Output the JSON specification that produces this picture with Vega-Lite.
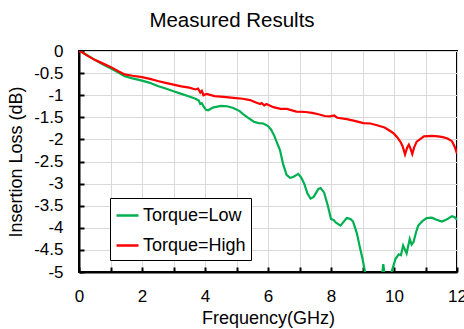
{
  "$schema": "https://vega.github.io/schema/vega-lite/v6.json",
  "autosize": {"type": "none"},
  "width": 378,
  "height": 221,
  "padding": {"left": 79, "top": 51, "right": 7, "bottom": 57},
  "background": "white",
  "title": {"text": "Measured Results", "fontSize": 20.5, "font": "Liberation Sans", "fontWeight": "normal", "color": "black", "anchor": "middle", "frame": "group", "dx": -36, "offset": 11},
  "config": {
    "font": "Liberation Sans",
    "view": {"stroke": "black", "strokeWidth": 2},
    "axis": {"labelFont": "Liberation Sans", "titleFont": "Liberation Sans", "labelColor": "black", "titleColor": "black", "titleFontWeight": "normal", "domainColor": "black", "domainWidth": 2, "tickColor": "black", "tickWidth": 2, "tickSize": -5, "gridColor": "#d9d9d9", "gridWidth": 1, "labelFontSize": 17, "titleFontSize": 18}
  },
  "data": {"values": [
    {"f":0,"loss":0,"s":"Torque=Low"},
    {"f":0.1,"loss":-0.03,"s":"Torque=Low"},
    {"f":0.25,"loss":-0.09,"s":"Torque=Low"},
    {"f":0.5,"loss":-0.2,"s":"Torque=Low"},
    {"f":0.75,"loss":-0.3,"s":"Torque=Low"},
    {"f":1.0,"loss":-0.39,"s":"Torque=Low"},
    {"f":1.25,"loss":-0.49,"s":"Torque=Low"},
    {"f":1.45,"loss":-0.57,"s":"Torque=Low"},
    {"f":1.7,"loss":-0.62,"s":"Torque=Low"},
    {"f":2.0,"loss":-0.67,"s":"Torque=Low"},
    {"f":2.25,"loss":-0.72,"s":"Torque=Low"},
    {"f":2.5,"loss":-0.79,"s":"Torque=Low"},
    {"f":2.75,"loss":-0.85,"s":"Torque=Low"},
    {"f":3.0,"loss":-0.91,"s":"Torque=Low"},
    {"f":3.25,"loss":-0.97,"s":"Torque=Low"},
    {"f":3.5,"loss":-1.03,"s":"Torque=Low"},
    {"f":3.7,"loss":-1.08,"s":"Torque=Low"},
    {"f":3.8,"loss":-1.12,"s":"Torque=Low"},
    {"f":3.85,"loss":-1.2,"s":"Torque=Low"},
    {"f":3.9,"loss":-1.18,"s":"Torque=Low"},
    {"f":3.95,"loss":-1.25,"s":"Torque=Low"},
    {"f":4.03,"loss":-1.33,"s":"Torque=Low"},
    {"f":4.1,"loss":-1.34,"s":"Torque=Low"},
    {"f":4.25,"loss":-1.28,"s":"Torque=Low"},
    {"f":4.5,"loss":-1.24,"s":"Torque=Low"},
    {"f":4.7,"loss":-1.25,"s":"Torque=Low"},
    {"f":4.9,"loss":-1.29,"s":"Torque=Low"},
    {"f":5.1,"loss":-1.36,"s":"Torque=Low"},
    {"f":5.2,"loss":-1.42,"s":"Torque=Low"},
    {"f":5.35,"loss":-1.5,"s":"Torque=Low"},
    {"f":5.55,"loss":-1.6,"s":"Torque=Low"},
    {"f":5.7,"loss":-1.63,"s":"Torque=Low"},
    {"f":5.85,"loss":-1.64,"s":"Torque=Low"},
    {"f":6.0,"loss":-1.7,"s":"Torque=Low"},
    {"f":6.1,"loss":-1.78,"s":"Torque=Low"},
    {"f":6.2,"loss":-1.92,"s":"Torque=Low"},
    {"f":6.3,"loss":-2.1,"s":"Torque=Low"},
    {"f":6.38,"loss":-2.24,"s":"Torque=Low"},
    {"f":6.48,"loss":-2.56,"s":"Torque=Low"},
    {"f":6.59,"loss":-2.8,"s":"Torque=Low"},
    {"f":6.7,"loss":-2.87,"s":"Torque=Low"},
    {"f":6.8,"loss":-2.85,"s":"Torque=Low"},
    {"f":6.96,"loss":-2.78,"s":"Torque=Low"},
    {"f":7.05,"loss":-2.86,"s":"Torque=Low"},
    {"f":7.15,"loss":-3.0,"s":"Torque=Low"},
    {"f":7.25,"loss":-3.22,"s":"Torque=Low"},
    {"f":7.35,"loss":-3.34,"s":"Torque=Low"},
    {"f":7.45,"loss":-3.3,"s":"Torque=Low"},
    {"f":7.6,"loss":-3.12,"s":"Torque=Low"},
    {"f":7.67,"loss":-3.1,"s":"Torque=Low"},
    {"f":7.78,"loss":-3.2,"s":"Torque=Low"},
    {"f":7.9,"loss":-3.5,"s":"Torque=Low"},
    {"f":8.0,"loss":-3.8,"s":"Torque=Low"},
    {"f":8.08,"loss":-3.82,"s":"Torque=Low"},
    {"f":8.15,"loss":-3.88,"s":"Torque=Low"},
    {"f":8.3,"loss":-3.95,"s":"Torque=Low"},
    {"f":8.5,"loss":-3.78,"s":"Torque=Low"},
    {"f":8.62,"loss":-3.8,"s":"Torque=Low"},
    {"f":8.7,"loss":-3.86,"s":"Torque=Low"},
    {"f":8.82,"loss":-4.12,"s":"Torque=Low"},
    {"f":8.92,"loss":-4.45,"s":"Torque=Low"},
    {"f":9.0,"loss":-4.7,"s":"Torque=Low"},
    {"f":9.08,"loss":-5.0,"s":"Torque=Low"},
    {"f":9.15,"loss":-5.3,"s":"Torque=Low"},
    {"f":9.3,"loss":-5.6,"s":"Torque=Low"},
    {"f":9.5,"loss":-5.5,"s":"Torque=Low"},
    {"f":9.6,"loss":-5.2,"s":"Torque=Low"},
    {"f":9.66,"loss":-4.82,"s":"Torque=Low"},
    {"f":9.72,"loss":-5.2,"s":"Torque=Low"},
    {"f":9.85,"loss":-5.2,"s":"Torque=Low"},
    {"f":9.93,"loss":-4.98,"s":"Torque=Low"},
    {"f":10.05,"loss":-4.7,"s":"Torque=Low"},
    {"f":10.15,"loss":-4.6,"s":"Torque=Low"},
    {"f":10.22,"loss":-4.62,"s":"Torque=Low"},
    {"f":10.29,"loss":-4.4,"s":"Torque=Low"},
    {"f":10.35,"loss":-4.5,"s":"Torque=Low"},
    {"f":10.4,"loss":-4.58,"s":"Torque=Low"},
    {"f":10.5,"loss":-4.25,"s":"Torque=Low"},
    {"f":10.56,"loss":-4.38,"s":"Torque=Low"},
    {"f":10.62,"loss":-4.32,"s":"Torque=Low"},
    {"f":10.7,"loss":-4.1,"s":"Torque=Low"},
    {"f":10.77,"loss":-3.95,"s":"Torque=Low"},
    {"f":10.9,"loss":-3.85,"s":"Torque=Low"},
    {"f":11.04,"loss":-3.78,"s":"Torque=Low"},
    {"f":11.2,"loss":-3.77,"s":"Torque=Low"},
    {"f":11.35,"loss":-3.82,"s":"Torque=Low"},
    {"f":11.52,"loss":-3.86,"s":"Torque=Low"},
    {"f":11.65,"loss":-3.82,"s":"Torque=Low"},
    {"f":11.84,"loss":-3.74,"s":"Torque=Low"},
    {"f":11.93,"loss":-3.76,"s":"Torque=Low"},
    {"f":12.0,"loss":-3.82,"s":"Torque=Low"},
    {"f":0,"loss":0,"s":"Torque=High"},
    {"f":0.1,"loss":-0.03,"s":"Torque=High"},
    {"f":0.25,"loss":-0.1,"s":"Torque=High"},
    {"f":0.5,"loss":-0.2,"s":"Torque=High"},
    {"f":0.75,"loss":-0.28,"s":"Torque=High"},
    {"f":1.0,"loss":-0.36,"s":"Torque=High"},
    {"f":1.25,"loss":-0.46,"s":"Torque=High"},
    {"f":1.45,"loss":-0.53,"s":"Torque=High"},
    {"f":1.7,"loss":-0.56,"s":"Torque=High"},
    {"f":2.0,"loss":-0.59,"s":"Torque=High"},
    {"f":2.25,"loss":-0.63,"s":"Torque=High"},
    {"f":2.5,"loss":-0.68,"s":"Torque=High"},
    {"f":2.75,"loss":-0.72,"s":"Torque=High"},
    {"f":3.0,"loss":-0.76,"s":"Torque=High"},
    {"f":3.25,"loss":-0.8,"s":"Torque=High"},
    {"f":3.5,"loss":-0.83,"s":"Torque=High"},
    {"f":3.7,"loss":-0.87,"s":"Torque=High"},
    {"f":3.78,"loss":-0.85,"s":"Torque=High"},
    {"f":3.85,"loss":-0.94,"s":"Torque=High"},
    {"f":3.9,"loss":-0.9,"s":"Torque=High"},
    {"f":3.95,"loss":-1.0,"s":"Torque=High"},
    {"f":4.05,"loss":-0.97,"s":"Torque=High"},
    {"f":4.3,"loss":-1.02,"s":"Torque=High"},
    {"f":4.6,"loss":-1.04,"s":"Torque=High"},
    {"f":4.9,"loss":-1.06,"s":"Torque=High"},
    {"f":5.2,"loss":-1.08,"s":"Torque=High"},
    {"f":5.43,"loss":-1.11,"s":"Torque=High"},
    {"f":5.6,"loss":-1.16,"s":"Torque=High"},
    {"f":5.75,"loss":-1.2,"s":"Torque=High"},
    {"f":5.8,"loss":-1.18,"s":"Torque=High"},
    {"f":5.88,"loss":-1.23,"s":"Torque=High"},
    {"f":5.95,"loss":-1.2,"s":"Torque=High"},
    {"f":6.17,"loss":-1.27,"s":"Torque=High"},
    {"f":6.4,"loss":-1.31,"s":"Torque=High"},
    {"f":6.6,"loss":-1.31,"s":"Torque=High"},
    {"f":6.9,"loss":-1.37,"s":"Torque=High"},
    {"f":7.2,"loss":-1.38,"s":"Torque=High"},
    {"f":7.4,"loss":-1.4,"s":"Torque=High"},
    {"f":7.6,"loss":-1.43,"s":"Torque=High"},
    {"f":7.8,"loss":-1.47,"s":"Torque=High"},
    {"f":7.97,"loss":-1.48,"s":"Torque=High"},
    {"f":8.1,"loss":-1.46,"s":"Torque=High"},
    {"f":8.2,"loss":-1.51,"s":"Torque=High"},
    {"f":8.5,"loss":-1.54,"s":"Torque=High"},
    {"f":8.75,"loss":-1.58,"s":"Torque=High"},
    {"f":9.03,"loss":-1.63,"s":"Torque=High"},
    {"f":9.25,"loss":-1.64,"s":"Torque=High"},
    {"f":9.46,"loss":-1.68,"s":"Torque=High"},
    {"f":9.7,"loss":-1.73,"s":"Torque=High"},
    {"f":9.88,"loss":-1.81,"s":"Torque=High"},
    {"f":10.0,"loss":-1.87,"s":"Torque=High"},
    {"f":10.1,"loss":-1.95,"s":"Torque=High"},
    {"f":10.2,"loss":-2.05,"s":"Torque=High"},
    {"f":10.27,"loss":-2.15,"s":"Torque=High"},
    {"f":10.35,"loss":-2.34,"s":"Torque=High"},
    {"f":10.42,"loss":-2.18,"s":"Torque=High"},
    {"f":10.47,"loss":-2.12,"s":"Torque=High"},
    {"f":10.52,"loss":-2.2,"s":"Torque=High"},
    {"f":10.58,"loss":-2.33,"s":"Torque=High"},
    {"f":10.64,"loss":-2.18,"s":"Torque=High"},
    {"f":10.72,"loss":-2.05,"s":"Torque=High"},
    {"f":10.82,"loss":-2.0,"s":"Torque=High"},
    {"f":10.95,"loss":-1.93,"s":"Torque=High"},
    {"f":11.2,"loss":-1.92,"s":"Torque=High"},
    {"f":11.4,"loss":-1.93,"s":"Torque=High"},
    {"f":11.55,"loss":-1.95,"s":"Torque=High"},
    {"f":11.7,"loss":-1.98,"s":"Torque=High"},
    {"f":11.84,"loss":-2.04,"s":"Torque=High"},
    {"f":11.93,"loss":-2.17,"s":"Torque=High"},
    {"f":12.0,"loss":-2.32,"s":"Torque=High"}
  ]},
  "mark": {"type": "line", "clip": true, "strokeWidth": 2.2, "interpolate": "linear"},
  "encoding": {
    "x": {"field": "f", "type": "quantitative", "scale": {"domain": [0, 12], "nice": false},
      "axis": {"title": "Frequency(GHz)", "values": [0,1,2,3,4,5,6,7,8,9,10,11,12], "labelExpr": "datum.value % 2 == 0 ? datum.label : ''", "labelPadding": 21, "titlePadding": 5, "labelFlush": false, "labelOverlap": false}},
    "y": {"field": "loss", "type": "quantitative", "scale": {"domain": [-5, 0], "nice": false, "zero": false},
      "axis": {"title": "Insertion Loss (dB)", "values": [-5,-4.5,-4,-3.5,-3,-2.5,-2,-1.5,-1,-0.5,0], "labelExpr": "datum.value == 0 ? '0' : '-' + abs(datum.value)", "labelPadding": 21, "titlePadding": 8, "labelOverlap": false}},
    "color": {"field": "s", "type": "nominal", "sort": ["Torque=Low", "Torque=High"],
      "scale": {"domain": ["Torque=Low", "Torque=High"], "range": ["#00b050", "#ff0000"]},
      "legend": {"title": null, "orient": "none", "legendX": 31, "legendY": 147, "strokeColor": "black", "fillColor": "white", "padding": 5, "labelFontSize": 18, "labelFont": "Liberation Sans", "labelColor": "black", "symbolType": "stroke", "symbolSize": 484, "symbolStrokeWidth": 2.5, "rowPadding": 8, "labelOffset": 3, "cornerRadius": 0}}
  }
}
